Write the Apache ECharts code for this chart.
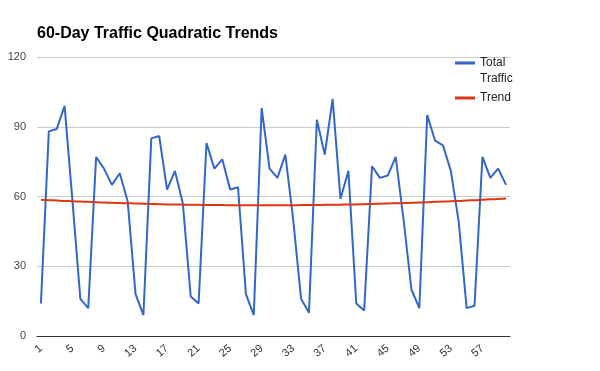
<!DOCTYPE html>
<html>
<head>
<meta charset="utf-8">
<script src="https://cdn.jsdelivr.net/npm/echarts@6/dist/echarts.min.js"></script>
<style>html,body{margin:0;padding:0;background:#fff}#c{width:600px;height:371px}</style>
</head>
<body>
<div id="c"></div>
<script>
var days = [];
for (var i = 1; i <= 60; i++) days.push(String(i));
var totalTraffic = [14, 88, 89, 99, 58, 16, 12, 77, 72, 65, 70, 58, 18, 9, 85, 86, 63, 71, 57, 17,
  14, 83, 72, 76, 63, 64, 18, 9, 98, 72, 68, 78, 50, 16, 10, 93, 78, 102, 59, 71,
  14, 11, 73, 68, 69, 77, 50, 20, 12, 95, 84, 82, 71, 49, 12, 13, 77, 68, 72, 65];
var trend = [58.6, 58.4, 58.3, 58.1, 58.0, 57.8, 57.7, 57.5, 57.4, 57.3, 57.2, 57.1, 57.0, 56.9, 56.8, 56.7, 56.6, 56.6, 56.5, 56.4,
  56.4, 56.3, 56.3, 56.3, 56.2, 56.2, 56.2, 56.2, 56.2, 56.2, 56.2, 56.2, 56.2, 56.3, 56.3, 56.3, 56.4, 56.4, 56.5, 56.6,
  56.6, 56.7, 56.8, 56.9, 57.0, 57.1, 57.2, 57.3, 57.4, 57.5, 57.7, 57.8, 58.0, 58.1, 58.3, 58.4, 58.6, 58.8, 58.9, 59.1];
var yTicks = [0, 30, 60, 90, 120];

var chart = echarts.init(document.getElementById('c'), null, {renderer: 'canvas'});
chart.setOption({
  animation: false,
  title: {
    text: '60-Day Traffic Quadratic Trends',
    left: 32, top: 21,
    textStyle: {fontFamily: 'Liberation Sans, Arial, sans-serif', fontSize: 16, fontWeight: 'bold', color: '#000'}
  },
  legend: {
    orient: 'vertical',
    left: 455, top: 39, padding: 0,
    itemWidth: 20, itemHeight: 3, itemGap: 3,
    icon: 'rect',
    data: ['Total Traffic', 'Trend'],
    formatter: function (n) { return n === 'Total Traffic' ? ' \nTotal\nTraffic' : n; },
    textStyle: {fontFamily: 'Liberation Sans, Arial, sans-serif', fontSize: 12, color: '#222', lineHeight: 16}
  },
  grid: {left: 37, right: 90, top: 57, bottom: 35, containLabel: false},
  xAxis: {
    type: 'category',
    data: days,
    boundaryGap: true,
    axisLine: {lineStyle: {color: '#333', width: 1}},
    axisTick: {show: false},
    axisLabel: {
      interval: 3, rotate: 40, color: '#333', fontSize: 11, margin: 11,
      fontFamily: 'Liberation Sans, Arial, sans-serif'
    }
  },
  yAxis: {
    type: 'value',
    min: yTicks[0], max: yTicks[yTicks.length - 1], interval: 30,
    axisLine: {show: false},
    axisTick: {show: false},
    splitLine: {lineStyle: {color: '#ccc', width: 1}},
    axisLabel: {color: '#444', fontSize: 11, margin: 11, fontFamily: 'Liberation Sans, Arial, sans-serif'}
  },
  series: [
    {
      name: 'Total Traffic', type: 'line', data: totalTraffic,
      showSymbol: false, symbol: 'none',
      lineStyle: {color: '#3366cc', width: 2}, itemStyle: {color: '#3366cc'}
    },
    {
      name: 'Trend', type: 'line', data: trend,
      showSymbol: false, symbol: 'none', smooth: true,
      lineStyle: {color: '#dc3912', width: 2}, itemStyle: {color: '#dc3912'}
    }
  ]
});
</script>
</body>
</html>
